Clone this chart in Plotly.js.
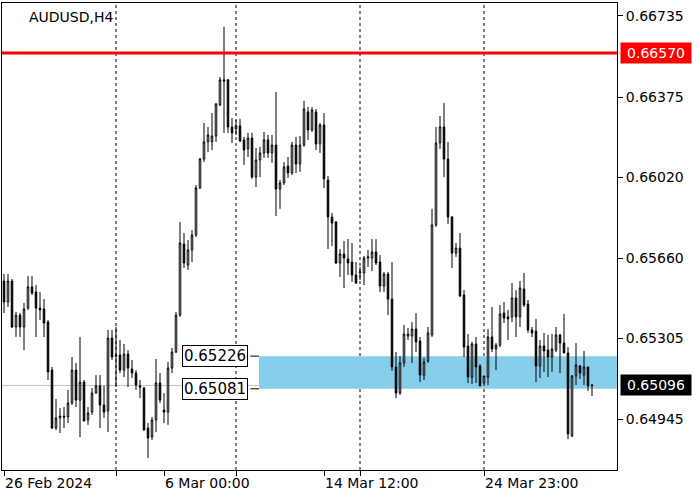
<!DOCTYPE html>
<html><head><meta charset="utf-8">
<script src="https://cdn.plot.ly/plotly-3.0.1.min.js"></script>
<style>html,body{margin:0;padding:0;background:#fff}#chart{width:700px;height:500px}</style>
</head><body><div id="chart"></div>
<script>
const symbolLabel = 'AUDUSD,H4';
const open = [0.65559,0.65466,0.65559,0.65355,0.65408,0.65355,0.65439,0.65533,0.65510,0.65439,
0.65435,0.65377,0.65164,0.64907,0.64952,0.64960,0.64956,0.65018,0.65164,0.65031,
0.65111,0.64943,0.64978,0.65062,0.65094,0.65009,0.64983,0.65306,0.65231,0.65231,
0.65164,0.65235,0.65169,0.65151,0.65094,0.65085,0.64907,0.64867,0.64943,0.65107,
0.64987,0.64978,0.65173,0.65244,0.65408,0.65723,0.65630,0.65697,0.65763,0.65972,
0.66100,0.66176,0.66176,0.66202,0.66340,0.66451,0.66451,0.66242,0.66233,0.66247,
0.66185,0.66145,0.66193,0.66020,0.66096,0.66127,0.66185,0.66127,0.66162,0.65967,
0.65994,0.66069,0.66038,0.66162,0.66078,0.66162,0.66309,0.66229,0.66309,0.66167,
0.66251,0.66007,0.65843,0.65821,0.65639,0.65679,0.65657,0.65643,0.65586,0.65595,
0.65595,0.65661,0.65661,0.65688,0.65643,0.65537,0.65590,0.65479,0.65178,0.65062,
0.65196,0.65315,0.65315,0.65346,0.65293,0.65142,0.65204,0.65320,0.65808,0.66171,
0.66242,0.66100,0.65843,0.65683,0.65705,0.65497,0.65271,0.65133,0.65280,0.65182,
0.65107,0.65133,0.65311,0.65258,0.65275,0.65417,0.65400,0.65400,0.65484,0.65400,
0.65524,0.65457,0.65342,0.65337,0.65182,0.65271,0.65253,0.65222,0.65253,0.65320,
0.65284,0.65240,0.64872,0.65138,0.65182,0.65142,0.65178,0.65098];
const high = [0.65590,0.65590,0.65568,0.65422,0.65417,0.65462,0.65581,0.65581,0.65541,0.65510,
0.65479,0.65386,0.65178,0.65036,0.64996,0.65000,0.65076,0.65222,0.65196,0.65311,
0.65120,0.65000,0.65085,0.65142,0.65142,0.65094,0.65342,0.65342,0.65355,0.65298,
0.65280,0.65253,0.65209,0.65164,0.65120,0.65089,0.64929,0.64956,0.65213,0.65151,
0.65062,0.65200,0.65262,0.65422,0.65821,0.65772,0.65741,0.65785,0.65985,0.66105,
0.66260,0.66242,0.66304,0.66349,0.66464,0.66686,0.66455,0.66282,0.66273,0.66278,
0.66198,0.66216,0.66216,0.66149,0.66154,0.66220,0.66207,0.66207,0.66397,0.66007,
0.66087,0.66109,0.66176,0.66198,0.66202,0.66358,0.66331,0.66331,0.66322,0.66260,
0.66304,0.66025,0.65861,0.65825,0.65701,0.65737,0.65745,0.65728,0.65643,0.65621,
0.65670,0.65697,0.65745,0.65745,0.65674,0.65599,0.65599,0.65643,0.65244,0.65227,
0.65364,0.65351,0.65377,0.65417,0.65311,0.65218,0.65355,0.65879,0.66242,0.66291,
0.66349,0.66176,0.65847,0.65728,0.65772,0.65519,0.65324,0.65289,0.65311,0.65191,
0.65138,0.65346,0.65444,0.65284,0.65453,0.65466,0.65431,0.65550,0.65519,0.65559,
0.65595,0.65475,0.65355,0.65391,0.65298,0.65329,0.65320,0.65324,0.65355,0.65324,
0.65413,0.65266,0.65142,0.65284,0.65187,0.65249,0.65178,0.65102];
const low = [0.65417,0.65444,0.65351,0.65311,0.65311,0.65253,0.65431,0.65497,0.65311,0.65386,
0.65311,0.65120,0.64903,0.64898,0.64885,0.64907,0.64929,0.65009,0.65000,0.64867,
0.64938,0.64921,0.64965,0.65062,0.64907,0.64952,0.64889,0.65209,0.65089,0.65151,
0.65133,0.65089,0.65129,0.65076,0.65040,0.64898,0.64774,0.64854,0.64889,0.65018,
0.64929,0.64921,0.65151,0.65240,0.65400,0.65617,0.65608,0.65643,0.65754,0.65967,
0.66087,0.66131,0.66140,0.66176,0.66335,0.66216,0.66216,0.66171,0.66207,0.66176,
0.66074,0.66109,0.66012,0.65976,0.66020,0.66105,0.66105,0.66083,0.65847,0.65879,
0.65985,0.66016,0.66029,0.66038,0.66043,0.66154,0.66185,0.66220,0.66140,0.66127,
0.65972,0.65701,0.65714,0.65635,0.65577,0.65528,0.65586,0.65555,0.65546,0.65564,
0.65541,0.65621,0.65603,0.65630,0.65510,0.65510,0.65408,0.65160,0.65040,0.65054,
0.65178,0.65298,0.65196,0.65244,0.65111,0.65120,0.65196,0.65311,0.65799,0.66145,
0.66020,0.65812,0.65617,0.65666,0.65488,0.65222,0.65107,0.65102,0.65107,0.65094,
0.65094,0.65098,0.65244,0.65164,0.65266,0.65373,0.65298,0.65377,0.65311,0.65355,
0.65444,0.65329,0.65311,0.65111,0.65129,0.65156,0.65133,0.65156,0.65244,0.65151,
0.65240,0.64858,0.64867,0.65098,0.65125,0.65098,0.65071,0.65049];
const close = [0.65466,0.65559,0.65355,0.65408,0.65355,0.65435,0.65533,0.65506,0.65439,0.65431,
0.65373,0.65156,0.64907,0.64952,0.64960,0.64956,0.65018,0.65164,0.65031,0.65111,
0.64938,0.64974,0.65062,0.65094,0.65009,0.64978,0.65306,0.65222,0.65227,0.65164,
0.65235,0.65173,0.65151,0.65098,0.65089,0.64898,0.64863,0.64943,0.65107,0.65031,
0.64978,0.65173,0.65244,0.65408,0.65728,0.65639,0.65697,0.65763,0.65972,0.66100,
0.66176,0.66207,0.66202,0.66344,0.66451,0.66446,0.66242,0.66216,0.66247,0.66180,
0.66140,0.66193,0.66020,0.66096,0.66127,0.66185,0.66127,0.66162,0.65967,0.65994,
0.66065,0.66038,0.66162,0.66078,0.66162,0.66322,0.66229,0.66318,0.66167,0.66251,
0.66012,0.65843,0.65816,0.65639,0.65679,0.65661,0.65639,0.65586,0.65550,0.65599,
0.65661,0.65666,0.65688,0.65639,0.65537,0.65590,0.65479,0.65178,0.65062,0.65196,
0.65324,0.65324,0.65346,0.65289,0.65142,0.65200,0.65329,0.65808,0.66171,0.66242,
0.66100,0.65843,0.65683,0.65705,0.65493,0.65266,0.65133,0.65280,0.65178,0.65094,
0.65138,0.65311,0.65258,0.65275,0.65413,0.65395,0.65391,0.65484,0.65400,0.65528,
0.65453,0.65342,0.65329,0.65182,0.65271,0.65249,0.65222,0.65258,0.65320,0.65284,
0.65240,0.64881,0.65138,0.65187,0.65151,0.65178,0.65094,0.65096];
const priceTicks = [0.66735,0.66375,0.66020,0.65660,0.65305,0.64945];
const priceTickText = ['0.66735','0.66375','0.66020','0.65660','0.65305','0.64945'];
const timeTickBars = [0,28,40,58,80,89,120];
const timeTickText = ['26 Feb 2024','','6 Mar 00:00','','14 Mar 12:00','','24 Mar 23:00'];
const separatorBars = [28,58,89,120];
const resistanceLevel = 0.66570;
const zoneHigh = 0.65226;
const zoneLow = 0.65081;
const lastPrice = 0.65096;

const bars = open.map((_, i) => i);
const FONT = 'DejaVu Sans';

const shapes = [];
shapes.push({type:'rect', layer:'below', xref:'x', yref:'y', x0:63.75, x1:153.25, y0:zoneLow, y1:zoneHigh,
  fillcolor:'#87ceeb', line:{width:0}});
shapes.push({type:'line', layer:'below', xref:'paper', yref:'y', x0:0, x1:1, y0:lastPrice, y1:lastPrice,
  line:{color:'#c0c0c0', width:1}});
separatorBars.forEach(b => shapes.push({type:'line', layer:'below', xref:'x', yref:'paper', x0:b, x1:b, y0:0, y1:1,
  line:{color:'#000', width:1, dash:'3px,3px'}}));
shapes.push({type:'line', layer:'below', xref:'x', yref:'y', x0:61.6, x1:63.75, y0:zoneHigh, y1:zoneHigh, line:{color:'#000', width:1}});
shapes.push({type:'line', layer:'below', xref:'x', yref:'y', x0:61.6, x1:63.75, y0:zoneLow, y1:zoneLow, line:{color:'#000', width:1}});
shapes.push({type:'line', layer:'above', xref:'paper', yref:'y', x0:0, x1:1, y0:resistanceLevel, y1:resistanceLevel,
  line:{color:'#ff0000', width:3}});

const annotations = [
  {xref:'paper', yref:'paper', x:0, y:1, xshift:25, yshift:-4, xanchor:'left', yanchor:'top', showarrow:false,
   text:symbolLabel, font:{family:FONT, size:14, color:'#000'}},
  {xref:'paper', yref:'y', x:1, y:resistanceLevel, xanchor:'left', xshift:3, showarrow:false,
   text:resistanceLevel.toFixed(5), bgcolor:'#ff0000', width:66, align:'center', borderpad:2,
   font:{family:FONT, size:14, color:'#fff'}},
  {xref:'paper', yref:'y', x:1, y:lastPrice, xanchor:'left', xshift:3, showarrow:false,
   text:lastPrice.toFixed(5), bgcolor:'#000', width:66, align:'center', borderpad:2,
   font:{family:FONT, size:14, color:'#fff'}},
  {xref:'x', yref:'y', x:44.5, y:zoneHigh, xanchor:'left', showarrow:false,
   text:zoneHigh.toFixed(5), bgcolor:'#fff', bordercolor:'#000', borderwidth:1, borderpad:1,
   font:{family:FONT, size:15, color:'#000'}},
  {xref:'x', yref:'y', x:44.5, y:zoneLow, xanchor:'left', showarrow:false,
   text:zoneLow.toFixed(5), bgcolor:'#fff', bordercolor:'#000', borderwidth:1, borderpad:1,
   font:{family:FONT, size:15, color:'#000'}}
];

const trace = {
  type:'candlestick', x:bars, open:open, high:high, low:low, close:close,
  increasing:{line:{color:'#000', width:1}, fillcolor:'#ffffff'},
  decreasing:{line:{color:'#000', width:1}, fillcolor:'#000000'},
  whiskerwidth:0, hoverinfo:'skip', showlegend:false
};

const layout = {
  width:700, height:500,
  margin:{l:2, r:83, t:3, b:30},
  paper_bgcolor:'#fff', plot_bgcolor:'#fff',
  boxgap:0.45,
  showlegend:false,
  font:{family:FONT, size:14, color:'#000'},
  xaxis:{type:'linear', range:[-0.5, 153.25], rangeslider:{visible:false},
    tickvals:timeTickBars, ticktext:timeTickText, ticks:'outside', ticklen:5, tickcolor:'#000', tickwidth:1,
    ticklabelposition:'outside right',
    showgrid:false, zeroline:false, showline:true, mirror:true, linecolor:'#000', linewidth:1,
    tickfont:{family:FONT, size:14, color:'#000'}, fixedrange:true},
  yaxis:{side:'right', range:[0.64721, 0.66792], tickvals:priceTicks, ticktext:priceTickText,
    ticks:'outside', ticklen:5, tickcolor:'#000', tickwidth:1,
    showgrid:false, zeroline:false, showline:true, mirror:true, linecolor:'#000', linewidth:1,
    tickfont:{family:FONT, size:14, color:'#000'}, fixedrange:true},
  shapes:shapes, annotations:annotations
};

Plotly.newPlot('chart', [trace], layout, {staticPlot:true, displayModeBar:false});
</script>
</body></html>
